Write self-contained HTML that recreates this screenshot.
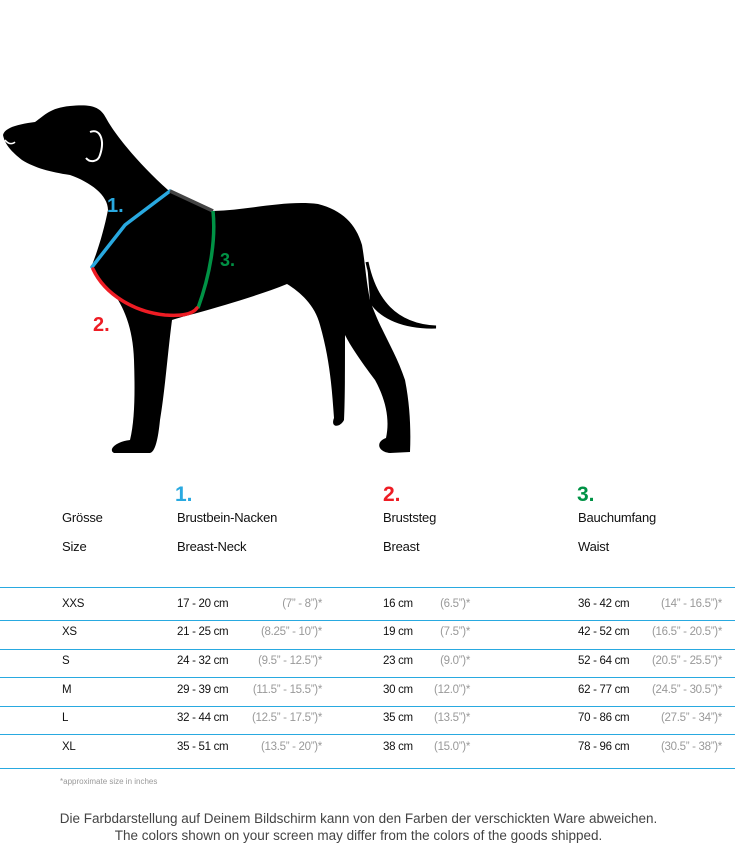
<!DOCTYPE html>
<html><head><meta charset="utf-8"><style>
body{margin:0;width:735px;height:850px;background:#fff;position:relative;overflow:hidden;font-family:"Liberation Sans",sans-serif;color:#111}
.t{position:absolute;white-space:nowrap}
.h{font-size:13px;letter-spacing:-0.2px}
.r{font-size:11.5px;letter-spacing:-0.3px}
.i{font-size:11.5px;color:#999;letter-spacing:-0.3px;text-align:right}
.n{font-size:21px;font-weight:bold}
.ln{position:absolute;left:0;width:735px;height:1px;background:#29a9e0}
</style></head><body>
<svg width="735" height="470" style="position:absolute;left:0;top:0">
<path fill="#000" d="M3,135 C5,127 20,124 35,122 C45,115 50,108 70,106 C90,104 100,106 106,118 C115,135 140,165 168,190 L213,211 C250,210 285,200 318,204 C342,210 356,224 362,245 C365,262 366,280 370,300 C380,330 395,350 405,380 C410,405 411,430 410,452 L390,453 C378,452 375,442 386,438 C390,420 386,400 375,380 C360,360 350,345 345,335 C345,370 345,400 344,420 C340,428 330,428 334,418 C332,390 330,360 320,325 C315,305 300,292 287,284 C260,295 225,305 197,313 C185,316 178,318 172,320 C168,350 165,390 160,420 C158,440 155,452 150,453 L114,453 C108,450 115,442 130,440 C135,420 135,390 134,360 C133,330 125,310 115,295 C105,285 95,275 92,265 C98,250 104,230 108,210 C108,195 90,182 70,175 C50,172 35,168 22,160 C12,152 5,145 3,135 Z"/>
<path d="M367,262 C375,300 395,325 436,327 C405,328 380,318 370,300" fill="#000" stroke="#000" stroke-width="3"/>
<path d="M90,132 C100,128 105,140 100,155 C98,162 90,163 86,158" fill="none" stroke="#fff" stroke-width="2"/>
<path d="M5,140 C9,145 13,144 15,142" fill="none" stroke="#fff" stroke-width="1.5"/>
<path d="M92,267 L125,225 L170,191" fill="none" stroke="#29a9e0" stroke-width="3.5" stroke-linecap="round"/>
<path d="M170,191 L213,211" fill="none" stroke="#444" stroke-width="3.5"/>
<path d="M213,211 C216,240 210,275 198,308" fill="none" stroke="#009245" stroke-width="3.5"/>
<path d="M93,269 C105,295 135,312 165,315 C180,316 192,315 197,308" fill="none" stroke="#ee1c24" stroke-width="3.5" stroke-linecap="round"/>
<text x="107" y="212" font-family="Liberation Sans" font-weight="bold" font-size="20" fill="#29a9e0">1.</text>
<text x="93" y="331" font-family="Liberation Sans" font-weight="bold" font-size="20" fill="#ee1c24">2.</text>
<text x="220" y="266" font-family="Liberation Sans" font-weight="bold" font-size="18" fill="#009245">3.</text>
</svg>
<div class="t n" style="left:175px;top:483px;color:#29a9e0">1.</div>
<div class="t n" style="left:383px;top:483px;color:#ee1c24">2.</div>
<div class="t n" style="left:577px;top:483px;color:#009245">3.</div>
<div class="t h" style="left:62px;top:510px">Grösse</div>
<div class="t h" style="left:177px;top:510px">Brustbein-Nacken</div>
<div class="t h" style="left:383px;top:510px">Bruststeg</div>
<div class="t h" style="left:578px;top:510px">Bauchumfang</div>
<div class="t h" style="left:62px;top:539px">Size</div>
<div class="t h" style="left:177px;top:539px">Breast-Neck</div>
<div class="t h" style="left:383px;top:539px">Breast</div>
<div class="t h" style="left:578px;top:539px">Waist</div>
<div class="ln" style="top:587px"></div>
<div class="ln" style="top:620px"></div>
<div class="ln" style="top:649px"></div>
<div class="ln" style="top:677px"></div>
<div class="ln" style="top:706px"></div>
<div class="ln" style="top:734px"></div>
<div class="ln" style="top:768px"></div>
<div style="position:absolute;left:0;top:0;width:735px;height:850px">
<div class="t r" style="left:62px;top:598px">XXS</div><div class="t r" style="left:177px;top:598px">17 - 20 cm</div><div class="t i" style="right:413px;top:598px">(7” - 8”)*</div><div class="t r" style="left:383px;top:598px">16 cm</div><div class="t i" style="right:265px;top:598px">(6.5”)*</div><div class="t r" style="left:578px;top:598px">36 - 42 cm</div><div class="t i" style="right:13px;top:598px">(14” - 16.5”)*</div>
<div class="t r" style="left:62px;top:626px">XS</div><div class="t r" style="left:177px;top:626px">21 - 25 cm</div><div class="t i" style="right:413px;top:626px">(8.25” - 10”)*</div><div class="t r" style="left:383px;top:626px">19 cm</div><div class="t i" style="right:265px;top:626px">(7.5”)*</div><div class="t r" style="left:578px;top:626px">42 - 52 cm</div><div class="t i" style="right:13px;top:626px">(16.5” - 20.5”)*</div>
<div class="t r" style="left:62px;top:655px">S</div><div class="t r" style="left:177px;top:655px">24 - 32 cm</div><div class="t i" style="right:413px;top:655px">(9.5” - 12.5”)*</div><div class="t r" style="left:383px;top:655px">23 cm</div><div class="t i" style="right:265px;top:655px">(9.0”)*</div><div class="t r" style="left:578px;top:655px">52 - 64 cm</div><div class="t i" style="right:13px;top:655px">(20.5” - 25.5”)*</div>
<div class="t r" style="left:62px;top:684px">M</div><div class="t r" style="left:177px;top:684px">29 - 39 cm</div><div class="t i" style="right:413px;top:684px">(11.5” - 15.5”)*</div><div class="t r" style="left:383px;top:684px">30 cm</div><div class="t i" style="right:265px;top:684px">(12.0”)*</div><div class="t r" style="left:578px;top:684px">62 - 77 cm</div><div class="t i" style="right:13px;top:684px">(24.5” - 30.5”)*</div>
<div class="t r" style="left:62px;top:712px">L</div><div class="t r" style="left:177px;top:712px">32 - 44 cm</div><div class="t i" style="right:413px;top:712px">(12.5” - 17.5”)*</div><div class="t r" style="left:383px;top:712px">35 cm</div><div class="t i" style="right:265px;top:712px">(13.5”)*</div><div class="t r" style="left:578px;top:712px">70 - 86 cm</div><div class="t i" style="right:13px;top:712px">(27.5” - 34”)*</div>
<div class="t r" style="left:62px;top:741px">XL</div><div class="t r" style="left:177px;top:741px">35 - 51 cm</div><div class="t i" style="right:413px;top:741px">(13.5” - 20”)*</div><div class="t r" style="left:383px;top:741px">38 cm</div><div class="t i" style="right:265px;top:741px">(15.0”)*</div><div class="t r" style="left:578px;top:741px">78 - 96 cm</div><div class="t i" style="right:13px;top:741px">(30.5” - 38”)*</div>
</div>
<div class="t" style="left:60px;top:777px;font-size:8px;color:#999">*approximate size in inches</div>
<div style="position:absolute;left:0;width:717px;top:810px;text-align:center;font-size:13.5px;line-height:17px;color:#444">Die Farbdarstellung auf Deinem Bildschirm kann von den Farben der verschickten Ware abweichen.<br>The colors shown on your screen may differ from the colors of the goods shipped.</div>
</body></html>
